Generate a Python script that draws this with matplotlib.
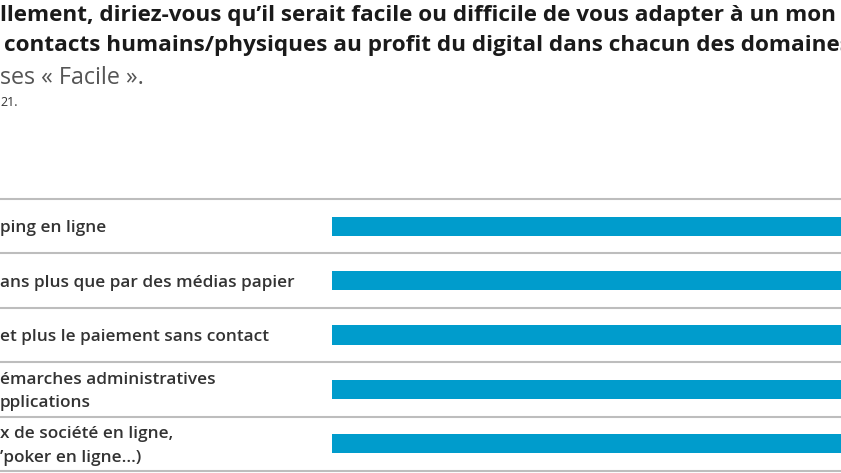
import matplotlib
matplotlib.use("Agg")
from matplotlib import pyplot as plt

plt.rcParams['font.family'] = ['Open Sans', 'DejaVu Sans']

# visible part of the chart (cropped on both sides)
title_lines = ["llement, diriez-vous qu\u2019il serait facile ou difficile de vous adapter \u00e0 un mon",
               "contacts humains/physiques au profit du digital dans chacun des domaines"]
subtitle = "ses \u00ab Facile \u00bb."
source = "21."

labels = ["ping en ligne",
          "ans plus que par des m\u00e9dias papier",
          "et plus le paiement sans contact",
          "\u00e9marches administratives\npplications",
          "x de soci\u00e9t\u00e9 en ligne,\n\u2019poker en ligne...)"]
facile = [78, 74, 71, 66, 52]

BAR_COLOR = "#009ccc"
LINE_COLOR = "#bdbdbd"

fig = plt.figure(figsize=(8.41, 4.73), dpi=100)

# text block at the top
fig.text(0.0, 1 - 16/473, title_lines[0], fontsize=16.2, fontweight='bold', color="#1a1a1a", va='center', ha='left')
fig.text(4/841, 1 - 46/473, title_lines[1], fontsize=16.2, fontweight='bold', color="#1a1a1a", va='center', ha='left')
fig.text(0.0, 1 - 78/473, subtitle, fontsize=16.8, color="#555555", va='center', ha='left')
fig.text(0.0, 1 - 103/473, source, fontsize=9, color="#333333", va='center', ha='left')

# bars: axes spans full width, bars start at 332px
R = 40.0
L = R * 332 / (841 - 332)
row_px = 54.4
ax = fig.add_axes([0, 0, 1, 274/473])
ax.set_xlim(-L, R)
ax.set_ylim(4.5 + 2/row_px, -0.5)
ax.axis('off')

ypos = list(range(len(labels)))
ax.barh(ypos, facile, left=0, height=0.35, color=BAR_COLOR)

for i in range(len(labels) + 1):
    ax.axhline(i - 0.5, color=LINE_COLOR, linewidth=1.5, clip_on=False)

for y, lab in zip(ypos, labels):
    ax.text(-L, y + 0.04, lab, fontsize=12.4, fontweight='semibold', color="#333333",
            va='center', ha='left', linespacing=1.6)

plt.savefig("out.png", dpi=100)
